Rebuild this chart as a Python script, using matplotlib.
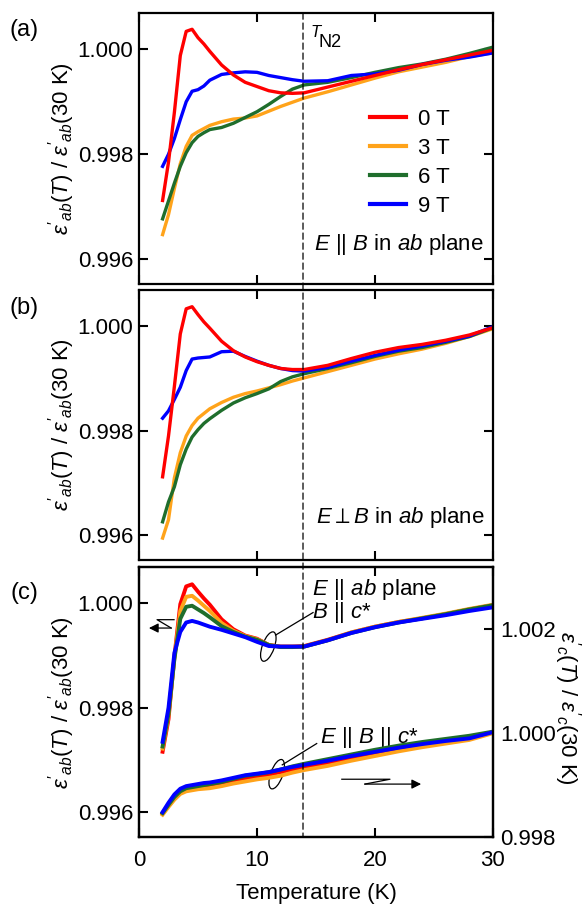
import matplotlib.pyplot as plt
from matplotlib.patches import Ellipse, ConnectionPatch
from matplotlib.transforms import ScaledTranslation

plt.rcParams['font.family'] = ['Liberation Sans', 'DejaVu Sans']
plt.rcParams['mathtext.fontset'] = 'custom'
plt.rcParams['mathtext.rm'] = 'Liberation Sans'
plt.rcParams['mathtext.it'] = 'Liberation Sans:italic'
plt.rcParams['mathtext.bf'] = 'Liberation Sans:bold'

temps = [2.0, 2.5, 3.0, 3.5, 4.0, 4.5, 5.0, 5.5, 6.0, 7.0, 8.0, 9.0, 10.0,
         11.0, 12.0, 13.0, 14.0, 16.0, 18.0, 20.0, 22.0, 24.0, 26.0, 28.0, 30.0]
fields = ['0 T', '3 T', '6 T', '9 T']
colors = ['#ff0000', '#ffa31a', '#1f6e2c', '#0000ff']
t_n2 = 13.9

# (a) E || B in ab plane
a_0T = [0.99712, 0.99785, 0.99880, 0.99988, 1.00034, 1.00038, 1.00022, 1.00010, 0.99996, 0.99970,
        0.99951, 0.99937, 0.99929, 0.99921, 0.99917, 0.99916, 0.99917, 0.99928, 0.99939, 0.99950,
        0.99961, 0.99971, 0.99980, 0.99989, 0.99998]
a_3T = [0.99647, 0.99685, 0.99735, 0.99782, 0.99815, 0.99836, 0.99843, 0.99849, 0.99855, 0.99862,
        0.99867, 0.99869, 0.99873, 0.99882, 0.99891, 0.99899, 0.99907, 0.99919, 0.99932, 0.99945,
        0.99957, 0.99966, 0.99975, 0.99986, 0.99993]
a_6T = [0.99677, 0.99711, 0.99745, 0.99777, 0.99803, 0.99822, 0.99834, 0.99841, 0.99847, 0.99851,
        0.99859, 0.99870, 0.99881, 0.99895, 0.99910, 0.99924, 0.99932, 0.99937, 0.99946, 0.99956,
        0.99965, 0.99972, 0.99981, 0.99992, 1.00004]
a_9T = [0.99777, 0.99800, 0.99830, 0.99866, 0.99900, 0.99920, 0.99923, 0.99930, 0.99941, 0.99952,
        0.99955, 0.99957, 0.99956, 0.99950, 0.99946, 0.99942, 0.99939, 0.99940, 0.99950, 0.99953,
        0.99960, 0.99971, 0.99979, 0.99985, 0.99993]

# (b) E perp B in ab plane
b_0T = [0.99712, 0.99790, 0.99885, 0.99985, 1.00033, 1.00037, 1.00022, 1.00008, 0.99996, 0.99971,
        0.99953, 0.99941, 0.99932, 0.99925, 0.99919, 0.99917, 0.99917, 0.99925, 0.99938, 0.99950,
        0.99959, 0.99965, 0.99973, 0.99983, 0.99997]
b_3T = [0.99595, 0.99630, 0.99710, 0.99758, 0.99790, 0.99810, 0.99824, 0.99833, 0.99842, 0.99854,
        0.99864, 0.99871, 0.99876, 0.99882, 0.99888, 0.99895, 0.99901, 0.99913, 0.99925, 0.99937,
        0.99947, 0.99956, 0.99967, 0.99980, 0.99995]
b_6T = [0.99626, 0.99664, 0.99693, 0.99735, 0.99765, 0.99788, 0.99802, 0.99814, 0.99823, 0.99839,
        0.99853, 0.99863, 0.99871, 0.99880, 0.99894, 0.99903, 0.99909, 0.99919, 0.99930, 0.99942,
        0.99952, 0.99959, 0.99969, 0.99980, 0.99997]
b_9T = [0.99824, 0.99838, 0.99860, 0.99883, 0.99915, 0.99937, 0.99939, 0.99940, 0.99941, 0.99951,
        0.99952, 0.99942, 0.99933, 0.99925, 0.99919, 0.99915, 0.99914, 0.99921, 0.99933, 0.99944,
        0.99954, 0.99962, 0.99971, 0.99981, 0.99999]

# (c) upper: E || ab, B || c* (left axis)
c_ab_0T = [0.99716, 0.99778, 0.99898, 0.99998, 1.00032, 1.00036, 1.00022, 1.00009, 0.99997, 0.99969,
           0.99950, 0.99938, 0.99932, 0.99920, 0.99917, 0.99917, 0.99918, 0.99930, 0.99944, 0.99955,
           0.99964, 0.99971, 0.99979, 0.99988, 0.99996]
c_ab_3T = [0.99722, 0.99785, 0.99895, 0.99985, 1.00012, 1.00014, 1.00005, 0.99995, 0.99985, 0.99962,
           0.99947, 0.99937, 0.99931, 0.99920, 0.99917, 0.99917, 0.99917, 0.99929, 0.99944, 0.99955,
           0.99964, 0.99972, 0.99980, 0.99989, 0.99997]
c_ab_6T = [0.99726, 0.99788, 0.99893, 0.99970, 0.99993, 0.99995, 0.99988, 0.99981, 0.99973, 0.99956,
           0.99945, 0.99936, 0.99930, 0.99920, 0.99916, 0.99916, 0.99917, 0.99929, 0.99943, 0.99954,
           0.99963, 0.99971, 0.99979, 0.99988, 0.99996]
c_ab_9T = [0.99735, 0.99800, 0.99905, 0.99945, 0.99963, 0.99966, 0.99963, 0.99959, 0.99955, 0.99949,
           0.99942, 0.99935, 0.99926, 0.99918, 0.99917, 0.99917, 0.99917, 0.99929, 0.99943, 0.99954,
           0.99963, 0.99970, 0.99977, 0.99985, 0.99992]

# (c) lower: E || B || c* (right axis)
c_c_0T = [0.99845, 0.99860, 0.99875, 0.99886, 0.99892, 0.99894, 0.99896, 0.99897, 0.99897, 0.99902,
          0.99908, 0.99913, 0.99917, 0.99920, 0.99925, 0.99930, 0.99935, 0.99943, 0.99953, 0.99961,
          0.99969, 0.99977, 0.99984, 0.99991, 1.00002]
c_c_3T = [0.99843, 0.99858, 0.99872, 0.99883, 0.99888, 0.99890, 0.99892, 0.99893, 0.99894, 0.99898,
          0.99903, 0.99907, 0.99911, 0.99914, 0.99918, 0.99924, 0.99929, 0.99937, 0.99947, 0.99956,
          0.99965, 0.99973, 0.99980, 0.99987, 1.00000]
c_c_6T = [0.99846, 0.99862, 0.99877, 0.99888, 0.99894, 0.99896, 0.99898, 0.99900, 0.99902, 0.99906,
          0.99912, 0.99918, 0.99921, 0.99925, 0.99930, 0.99936, 0.99941, 0.99950, 0.99959, 0.99968,
          0.99976, 0.99983, 0.99989, 0.99995, 1.00003]
c_c_9T = [0.99848, 0.99866, 0.99882, 0.99893, 0.99898, 0.99900, 0.99902, 0.99904, 0.99905, 0.99909,
          0.99914, 0.99919, 0.99922, 0.99925, 0.99930, 0.99935, 0.99939, 0.99947, 0.99956, 0.99964,
          0.99972, 0.99979, 0.99985, 0.99990, 1.00002]

fig = plt.figure(figsize=(5.85, 9.09), dpi=100)
left, width = 0.2376, 0.6051
ax_a = fig.add_axes([left, 0.6876, width, 0.2981])
ax_b = fig.add_axes([left, 0.3839, width, 0.2971])
ax_c = fig.add_axes([left, 0.0792, width, 0.2970])

ylab = r"$\varepsilon'_{ab}(T)$ / $\varepsilon'_{ab}$(30 K)"
lw = 2.4


def style(ax, right=True):
    ax.set_xlim(0, 30)
    ax.set_ylim(0.99553, 1.00069)
    ax.set_xticks([0, 10, 20, 30])
    ax.set_yticks([0.996, 0.998, 1.000])
    ax.set_yticklabels(['0.996', '0.998', '1.000'])
    ax.tick_params(direction='in', length=6.5, width=1.5, labelsize=16,
                   top=True, right=right, pad=4)
    ax.tick_params(axis='x', pad=9)
    for s in ax.spines.values():
        s.set_linewidth(1.6)
    ax.set_ylabel(ylab, fontsize=16)
    ax.yaxis.set_label_coords(-0.175, 0.5)


# panel (a)
order = [1, 2, 3, 0]
series_a = [a_0T, a_3T, a_6T, a_9T]
for i in order:
    ax_a.plot(temps, series_a[i], color=colors[i], lw=lw, label=fields[i])
style(ax_a)
ax_a.tick_params(labelbottom=False)
h, l = ax_a.get_legend_handles_labels()
idx = [l.index(f) for f in fields]
leg = ax_a.legend([h[k] for k in idx], fields, loc='upper left',
                  bbox_to_anchor=(0.653, 0.645), frameon=False, fontsize=16,
                  handlelength=1.6, handletextpad=0.55, labelspacing=0.36,
                  borderpad=0, borderaxespad=0)
for ln in leg.get_lines():
    ln.set_linewidth(3)
ax_a.text(0.485, 0.928, "T", style='italic', transform=ax_a.transAxes,
          fontsize=12, ha='left', va='center')
ax_a.text(0.507, 0.891, "N2", transform=ax_a.transAxes,
          fontsize=13, ha='left', va='center')
ax_a.text(0.975, 0.144, r"$E$ || $B$ in $ab$ plane", transform=ax_a.transAxes,
          fontsize=16, ha='right', va='center')

# panel (b)
series_b = [b_0T, b_3T, b_6T, b_9T]
for i in order:
    ax_b.plot(temps, series_b[i], color=colors[i], lw=lw)
style(ax_b)
ax_b.tick_params(labelbottom=False)
ax_b.text(0.975, 0.156, r"$E\perp B$ in $ab$ plane", transform=ax_b.transAxes,
          fontsize=16, ha='right', va='center')

# panel (c)
ax_r = ax_c.twinx()
series_cab = [c_ab_0T, c_ab_3T, c_ab_6T, c_ab_9T]
series_cc = [c_c_0T, c_c_3T, c_c_6T, c_c_9T]
for i in range(4):
    ax_c.plot(temps, series_cab[i], color=colors[i], lw=lw + 0.4)
    ax_r.plot(temps, series_cc[i], color=colors[i], lw=lw + 0.4)
style(ax_c, right=False)
ax_c.set_xticklabels(['0', '10', '20', '30'])
ax_c.set_xlabel('Temperature (K)', fontsize=16, labelpad=9)
ax_r.set_ylim(0.998, 1.0032)
ax_r.set_yticks([0.998, 1.000, 1.002])
ax_r.set_yticklabels(['0.998', '1.000', '1.002'])
ax_r.tick_params(direction='in', length=6.5, width=1.5, labelsize=16, pad=5)
for s in ax_r.spines.values():
    s.set_linewidth(1.6)
fig.text(567 / 585, 1 - 708 / 909, r"$\varepsilon'_{c}(T)$ / $\varepsilon'_{c}$(30 K)",
         fontsize=16, rotation=270, ha='center', va='center')

ax_c.text(0.49, 0.915, r"$E$ || $ab$ plane", transform=ax_c.transAxes,
          fontsize=16, ha='left', va='center')
ax_c.text(0.49, 0.83, r"$B$ || $c$*", transform=ax_c.transAxes,
          fontsize=16, ha='left', va='center')
ax_c.text(0.51, 0.37, r"$E$ || $B$ || $c$*", transform=ax_c.transAxes,
          fontsize=16, ha='left', va='center')


def ring(ax, x, y):
    tr = fig.dpi_scale_trans + ScaledTranslation(x, y, ax.transData)
    ax.add_patch(Ellipse((0, 0), 0.12, 0.31, angle=-20, transform=tr,
                         fill=False, ec='k', lw=0.9))


ring(ax_c, 10.96, 0.99917)
ax_c.plot([11.58, 14.75], [0.99939, 0.99982], color='k', lw=0.9)
ring(ax_r, 11.67, 0.99921)
ax_r.plot([12.14, 15.06], [0.99939, 0.99980], color='k', lw=0.9)

# axis indicator arrows
ax_c.plot([0.099, 0.051, 0.091], [0.805, 0.805, 0.774], color='k', lw=0.9,
          transform=ax_c.transAxes)
ax_c.annotate('', xy=(0.028, 0.774), xytext=(0.091, 0.774), xycoords='axes fraction',
              arrowprops=dict(arrowstyle='-|>', color='k', lw=0.9, mutation_scale=14,
                              shrinkA=0, shrinkB=0))
ax_c.plot([0.573, 0.709, 0.638], [0.214, 0.214, 0.196], color='k', lw=0.9,
          transform=ax_c.transAxes)
ax_c.annotate('', xy=(0.797, 0.196), xytext=(0.638, 0.196), xycoords='axes fraction',
              arrowprops=dict(arrowstyle='-|>', color='k', lw=0.9, mutation_scale=14,
                              shrinkA=0, shrinkB=0))

# T_N2 dashed line through all panels
con = ConnectionPatch(xyA=(t_n2, 1.0), coordsA=ax_a.get_xaxis_transform(),
                      xyB=(t_n2, 0.0), coordsB=ax_c.get_xaxis_transform(),
                      color='k', lw=0.9, linestyle=(0, (5, 3)))
fig.add_artist(con)

fig.text(24 / 585, 1 - 30 / 909, '(a)', fontsize=17, ha='center', va='center')
fig.text(24 / 585, 1 - 308 / 909, '(b)', fontsize=17, ha='center', va='center')
fig.text(24 / 585, 1 - 593 / 909, '(c)', fontsize=17, ha='center', va='center')

fig.savefig('out.png', dpi=100)
